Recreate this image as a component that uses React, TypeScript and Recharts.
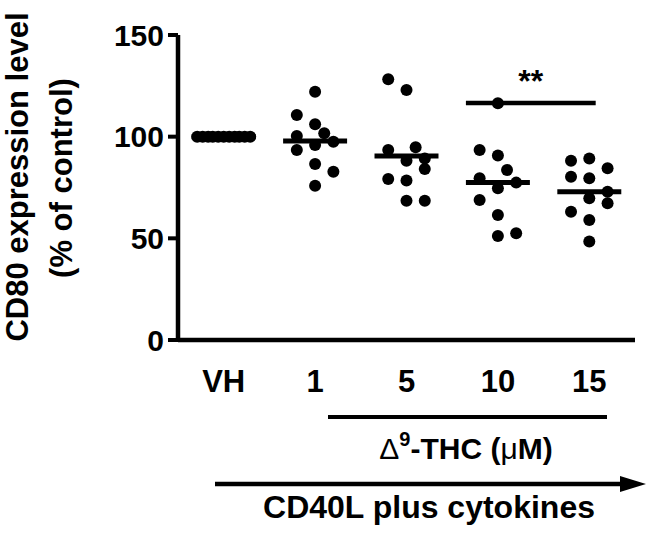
import React, { ReactElement } from 'react';
import { ScatterChart, Scatter, XAxis, YAxis, ReferenceLine } from 'recharts';

// categories on the x axis
const groups = ['VH', '1', '5', '10', '15'];
const yTicks = [0, 50, 100, 150];

// values (% of control), with the column each dot sits in
const vhValues = [100, 100, 100, 100, 100, 100, 100, 100, 100, 100, 100];
const vhCols = [-2.9, -2.3, -1.7, -1.2, -0.6, 0, 0.6, 1.2, 1.7, 2.3, 2.9];
const thc1Values = [122.1, 110.7, 106.1, 101.7, 100.3, 95.9, 97.5, 93.5, 86.6, 82.8, 75.9];
const thc1Cols = [0, -2, 0, 1, -2, 0, 2, -2, 0, 2, 0];
const thc5Values = [128.2, 123, 93.5, 94.8, 88.2, 89.3, 84.1, 79.2, 78.4, 68.5, 68.5];
const thc5Cols = [-2, 0, -2, 1, 0, 2, 2, -2, 0, 0, 2];
const thc10Values = [116.4, 93.5, 90.7, 83.6, 79.5, 77.4, 74.6, 68.9, 61.5, 51.2, 52.5];
const thc10Cols = [0, -2, 0, 1, -2, 2, 0, -2, 0, 0, 2];
const thc15Values = [88.2, 89.3, 84.5, 80.3, 79.5, 72.9, 69.7, 67.2, 63.1, 59, 48.4];
const thc15Cols = [-2, 0, 2, -2, 0, 2, 0, 2, -2, 0, 0];

// median bars drawn by the original figure
const medians = [100, 97.9, 90.5, 77.4, 72.9];

// significance bar between 10 and 15 uM
const sigFrom = 2.65;
const sigTo = 4.07;
const sigValue = 116.5;
const sigText = '**';

const COL = 0.1;
const HALF = 0.35;
const FONT = '"Liberation Sans", Arial, sans-serif';

const groupValues = [vhValues, thc1Values, thc5Values, thc10Values, thc15Values];
const groupCols = [vhCols, thc1Cols, thc5Cols, thc10Cols, thc15Cols];

const points = groupValues.flatMap((vals, g) =>
  vals.map((v, i) => ({ x: g + groupCols[g][i] * COL, y: v }))
);

const Dot = (p: any) => <circle cx={p.cx} cy={p.cy} r={6} fill="#000" />;

function App(): ReactElement {
  return (
    <div style={{ position: 'absolute', left: 0, top: 0, width: 654, height: 536 }}>
      <ScatterChart
        width={654}
        height={536}
        margin={{ top: 35, right: 19, left: 78, bottom: 136 }}
      >
        <XAxis
          type="number"
          dataKey="x"
          domain={[-0.5, 4.5]}
          ticks={[0, 1, 2, 3, 4]}
          tickFormatter={(v: number) => groups[v]}
          height={60}
          tickLine={false}
          tickSize={0}
          tickMargin={30}
          axisLine={{ stroke: '#000', strokeWidth: 4.5 }}
          tick={{ fill: '#000', fontSize: 31, fontWeight: 'bold', fontFamily: FONT }}
          interval={0}
        />
        <YAxis
          type="number"
          dataKey="y"
          domain={[0, 150]}
          ticks={yTicks}
          width={100}
          tickSize={10}
          tickMargin={4}
          tickLine={{ stroke: '#000', strokeWidth: 4 }}
          axisLine={{ stroke: '#000', strokeWidth: 4.5 }}
          tick={{ fill: '#000', fontSize: 30, fontWeight: 'bold', fontFamily: FONT }}
          interval={0}
        />
        {medians.map((m, g) => (
          <ReferenceLine
            key={groups[g]}
            segment={[{ x: g - HALF, y: m }, { x: g + HALF, y: m }]}
            stroke="#000"
            strokeWidth={5}
          />
        ))}
        <ReferenceLine
          segment={[{ x: sigFrom, y: sigValue }, { x: sigTo, y: sigValue }]}
          stroke="#000"
          strokeWidth={4.5}
          label={{
            value: sigText,
            position: 'top',
            offset: 11,
            fill: '#000',
            fontSize: 32,
            fontWeight: 'bold',
            fontFamily: FONT,
          }}
        />
        <Scatter data={points} shape={Dot} isAnimationActive={false} />
      </ScatterChart>
      <svg
        width={654}
        height={536}
        style={{ position: 'absolute', left: 0, top: 0, pointerEvents: 'none' }}
        fontFamily={FONT}
        fontWeight="bold"
        fill="#000"
      >
        <text transform="translate(28,177) rotate(-90)" textAnchor="middle" fontSize={31}>
          CD80 expression level
        </text>
        <text transform="translate(72,178) rotate(-90)" textAnchor="middle" fontSize={31}>
          (% of control)
        </text>
        <line x1={328} x2={607} y1={417} y2={417} stroke="#000" strokeWidth={4} />
        <text x={466} y={459} textAnchor="middle" fontSize={30}>
          <tspan fontWeight="normal">Δ</tspan>
          <tspan fontSize={20} dy={-13}>9</tspan>
          <tspan dy={13}>-THC (</tspan>
          <tspan fontWeight="normal">μ</tspan>
          <tspan>M)</tspan>
        </text>
        <line x1={215} x2={624} y1={484} y2={484} stroke="#000" strokeWidth={4.5} />
        <polygon points="620,476 646,484 620,492" fill="#000" />
        <text x={429} y={518} textAnchor="middle" fontSize={32}>
          CD40L plus cytokines
        </text>
      </svg>
    </div>
  );
}

export default App;
